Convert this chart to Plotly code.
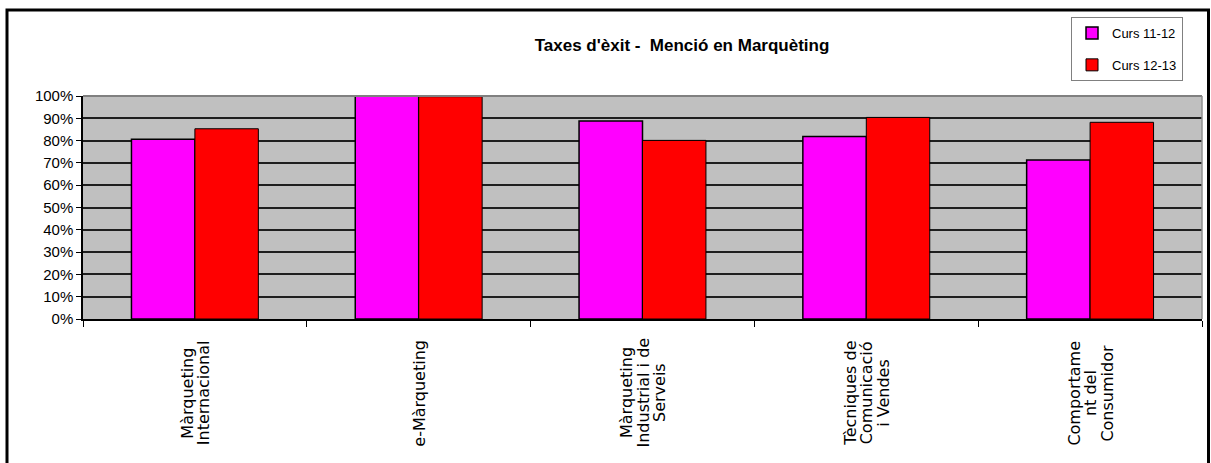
import plotly.graph_objects as go

# Success rates per subject, two academic years
categories = [
    "Màrqueting Internacional",
    "e-Màrqueting",
    "Màrqueting Industrial i de Serveis",
    "Tècniques de Comunicació i Vendes",
    "Comportament del Consumidor",
]
label_lines = [
    ["Màrqueting", "Internacional"],
    ["e-Màrqueting"],
    ["Màrqueting", "Industrial i de", "Serveis"],
    ["Tècniques de", "Comunicació", "i Vendes"],
    ["Comportame", "nt del", "Consumidor"],
]
series_names = ["Curs 11-12", "Curs 12-13"]
curs_11_12 = [80.6, 100.0, 88.8, 81.8, 71.3]
curs_12_13 = [85.3, 99.7, 80.1, 90.4, 88.2]
y_ticks = list(range(0, 101, 10))
y_tick_labels = [f"{v}%" for v in y_ticks]

W, H = 1211, 463
L, R, T, B = 83, 9, 96, 144
plot_w = W - L - R
plot_h = H - T - B


def px_x(px):
    return (px - L) / plot_w


def px_y(py):
    return (H - B - py) / plot_h


fig = go.Figure()
fig.add_trace(go.Bar(
    x=categories, y=curs_11_12, name=series_names[0], legendgroup="a",
    marker=dict(color="#FF00FF", line=dict(color="black", width=1.5)),
))
fig.add_trace(go.Bar(
    x=categories, y=curs_12_13, name=series_names[1], legendgroup="b",
    marker=dict(color="#FF0000", line=dict(color="black", width=1)),
))

# Category labels: rotated, centred lines
for cat, lines in zip(categories, label_lines):
    n = len(lines)
    for j, line in enumerate(lines):
        fig.add_annotation(
            x=cat, xref="x", y=px_y(393), yref="paper",
            text=line, showarrow=False, textangle=-90,
            xanchor="center", yanchor="middle",
            xshift=(j - (n - 1) / 2) * 16.5,
            font=dict(family="DejaVu Sans", size=16, color="black"),
        )

shapes = [
    # outer frame
    dict(type="rect", xref="paper", yref="paper",
         x0=px_x(7), x1=px_x(1208.5), y0=px_y(485), y1=px_y(10),
         line=dict(color="black", width=3), fillcolor="rgba(0,0,0,0)"),
    # plot area top and right edges
    dict(type="line", xref="paper", yref="paper", x0=0, x1=1, y0=1, y1=1,
         line=dict(color="#808080", width=2), layer="above"),
    dict(type="line", xref="paper", yref="paper", x0=1, x1=1, y0=0, y1=1,
         line=dict(color="#909090", width=1.5), layer="above"),
]

fig.update_layout(
    width=W, height=H,
    margin=dict(l=L, r=R, t=T, b=B, autoexpand=False),
    paper_bgcolor="white",
    plot_bgcolor="#C0C0C0",
    barmode="group",
    bargap=0.433,
    bargroupgap=0,
    shapes=shapes,
    title=dict(
        text="<b>Taxes d'èxit -  Menció en Marquèting</b>",
        x=682 / W, xref="container", xanchor="center",
        y=1 - 45 / H, yref="container", yanchor="middle",
        font=dict(family="Liberation Sans", size=17, color="black"),
    ),
    legend=dict(
        x=px_x(1183), y=px_y(17), xanchor="right", yanchor="top",
        xref="paper", yref="paper",
        bgcolor="white", bordercolor="#808080", borderwidth=1,
        font=dict(family="Liberation Sans", size=13, color="black"),
        traceorder="grouped", tracegroupgap=12,
        itemwidth=30,
    ),
    xaxis=dict(
        type="category", tickson="boundaries", ticks="outside",
        ticklen=6, tickcolor="black", tickwidth=1,
        showticklabels=False, showgrid=False,
        showline=True, linecolor="black", linewidth=1.5,
    ),
    yaxis=dict(
        range=[0, 100], tickmode="array", tickvals=y_ticks, ticktext=y_tick_labels,
        ticks="outside", ticklen=5, tickcolor="black", tickwidth=1,
        showgrid=True, gridcolor="#1e1e1e", gridwidth=1.5,
        showline=True, linecolor="black", linewidth=1.5,
        zeroline=False,
        tickfont=dict(family="Liberation Sans", size=15, color="black"),
    ),
    showlegend=True,
)

fig.write_html("out.html")
